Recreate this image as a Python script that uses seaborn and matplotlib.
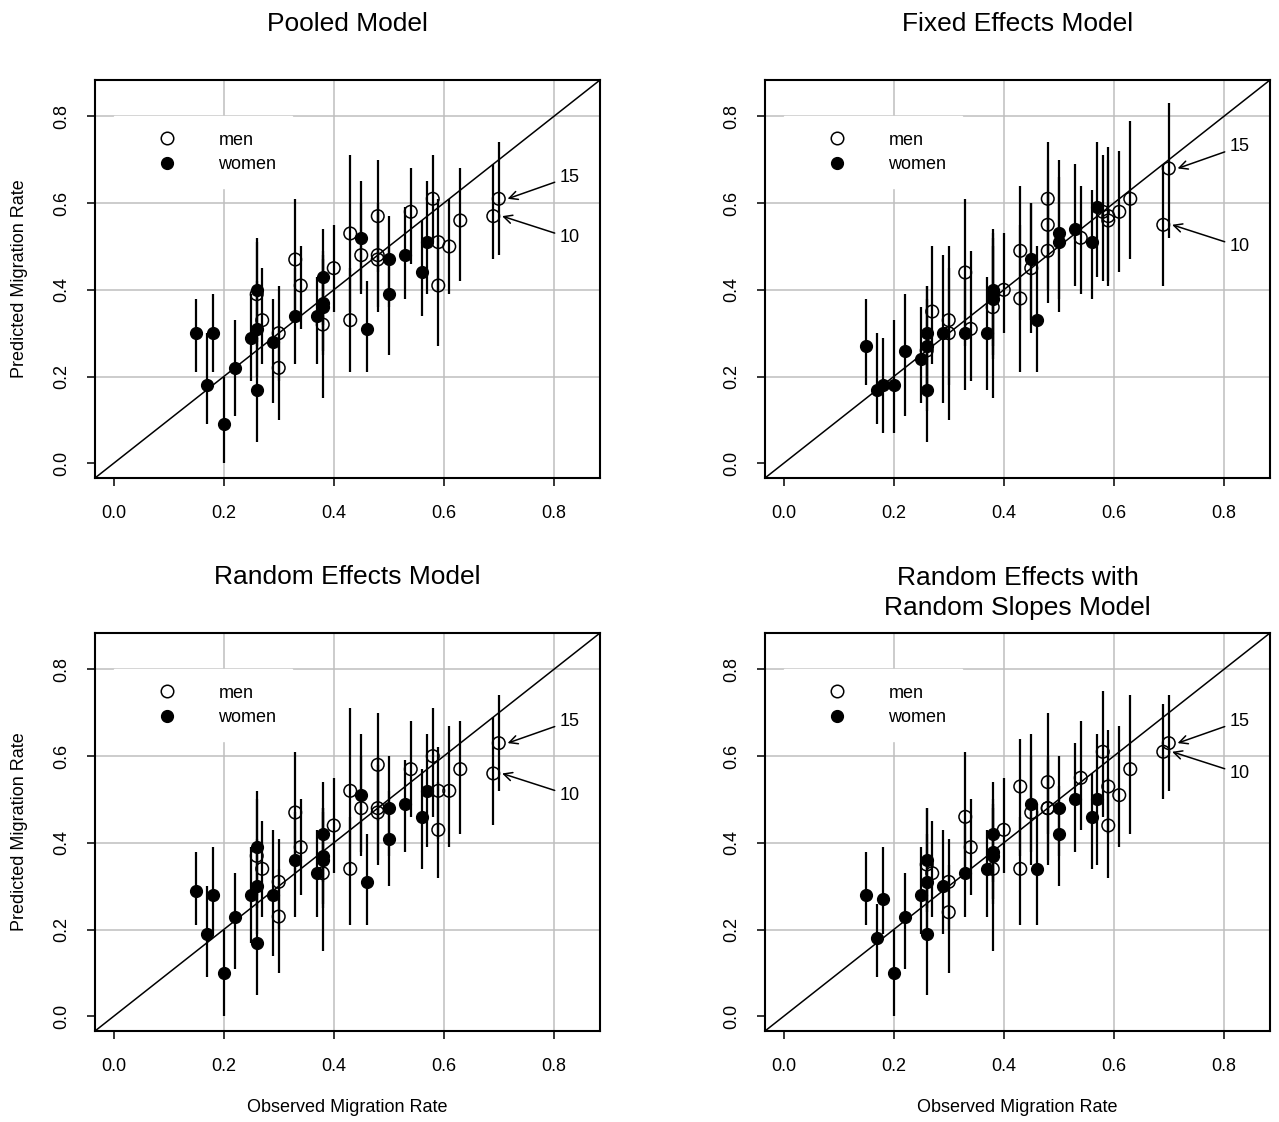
import numpy as np
import pandas as pd
import matplotlib
matplotlib.use("Agg")
import matplotlib.pyplot as plt
from matplotlib.lines import Line2D
import seaborn as sns

# observed migration rates (x axis), same for all four models
men_obs = [0.26, 0.27, 0.30, 0.30, 0.33, 0.34, 0.38, 0.40, 0.43, 0.43, 0.45,
           0.48, 0.48, 0.48, 0.54, 0.58, 0.59, 0.59, 0.61, 0.63, 0.69, 0.70]
women_obs = [0.15, 0.17, 0.18, 0.20, 0.22, 0.25, 0.26, 0.26, 0.26, 0.29, 0.33,
             0.37, 0.38, 0.38, 0.38, 0.45, 0.46, 0.50, 0.50, 0.53, 0.56, 0.57]

# Pooled model
pooled_men = [0.39, 0.33, 0.30, 0.22, 0.47, 0.41, 0.32, 0.45, 0.53, 0.33, 0.48,
              0.57, 0.48, 0.47, 0.58, 0.61, 0.51, 0.41, 0.50, 0.56, 0.57, 0.61]
pooled_men_lo = [0.27, 0.23, 0.19, 0.10, 0.33, 0.31, 0.15, 0.35, 0.35, 0.21, 0.39,
                 0.44, 0.35, 0.36, 0.46, 0.51, 0.40, 0.27, 0.39, 0.42, 0.47, 0.48]
pooled_men_hi = [0.51, 0.45, 0.41, 0.33, 0.61, 0.50, 0.49, 0.55, 0.71, 0.45, 0.60,
                 0.70, 0.60, 0.58, 0.68, 0.71, 0.61, 0.52, 0.61, 0.68, 0.69, 0.74]
pooled_women = [0.30, 0.18, 0.30, 0.09, 0.22, 0.29, 0.40, 0.31, 0.17, 0.28, 0.34,
                0.34, 0.43, 0.37, 0.36, 0.52, 0.31, 0.47, 0.39, 0.48, 0.44, 0.51]
pooled_women_lo = [0.21, 0.09, 0.21, 0.00, 0.11, 0.19, 0.28, 0.20, 0.05, 0.14, 0.23,
                   0.23, 0.32, 0.26, 0.25, 0.40, 0.21, 0.36, 0.25, 0.38, 0.34, 0.39]
pooled_women_hi = [0.38, 0.30, 0.39, 0.20, 0.33, 0.39, 0.52, 0.42, 0.29, 0.38, 0.45,
                   0.43, 0.54, 0.48, 0.47, 0.65, 0.42, 0.57, 0.50, 0.59, 0.56, 0.65]

# Fixed effects model
fixed_men = [0.26, 0.35, 0.33, 0.30, 0.44, 0.31, 0.36, 0.40, 0.49, 0.38, 0.45,
             0.61, 0.55, 0.49, 0.52, 0.58, 0.56, 0.57, 0.58, 0.61, 0.55, 0.68]
fixed_men_lo = [0.12, 0.23, 0.18, 0.10, 0.27, 0.19, 0.15, 0.30, 0.33, 0.21, 0.30,
                0.47, 0.40, 0.37, 0.39, 0.42, 0.41, 0.42, 0.44, 0.47, 0.41, 0.52]
fixed_men_hi = [0.41, 0.50, 0.50, 0.45, 0.61, 0.49, 0.54, 0.53, 0.64, 0.55, 0.60,
                0.74, 0.70, 0.62, 0.64, 0.71, 0.73, 0.70, 0.72, 0.79, 0.69, 0.83]
fixed_women = [0.27, 0.17, 0.18, 0.18, 0.26, 0.24, 0.30, 0.27, 0.17, 0.30, 0.30,
               0.30, 0.40, 0.39, 0.38, 0.47, 0.33, 0.53, 0.51, 0.54, 0.51, 0.59]
fixed_women_lo = [0.18, 0.09, 0.07, 0.07, 0.11, 0.14, 0.18, 0.15, 0.05, 0.14, 0.17,
                  0.17, 0.27, 0.25, 0.24, 0.33, 0.21, 0.38, 0.35, 0.41, 0.38, 0.43]
fixed_women_hi = [0.38, 0.30, 0.29, 0.33, 0.39, 0.36, 0.41, 0.38, 0.30, 0.48, 0.43,
                  0.43, 0.52, 0.53, 0.50, 0.60, 0.50, 0.70, 0.66, 0.69, 0.63, 0.74]

# Random effects model
random_men = [0.37, 0.34, 0.31, 0.23, 0.47, 0.39, 0.33, 0.44, 0.52, 0.34, 0.48,
              0.58, 0.48, 0.47, 0.57, 0.60, 0.52, 0.43, 0.52, 0.57, 0.56, 0.63]
random_men_lo = [0.25, 0.23, 0.20, 0.10, 0.33, 0.28, 0.15, 0.33, 0.35, 0.21, 0.37,
                 0.45, 0.35, 0.36, 0.46, 0.46, 0.41, 0.32, 0.39, 0.42, 0.44, 0.52]
random_men_hi = [0.50, 0.45, 0.41, 0.34, 0.61, 0.50, 0.48, 0.55, 0.71, 0.46, 0.60,
                 0.70, 0.60, 0.58, 0.68, 0.71, 0.62, 0.54, 0.67, 0.68, 0.69, 0.74]
random_women = [0.29, 0.19, 0.28, 0.10, 0.23, 0.28, 0.39, 0.30, 0.17, 0.28, 0.36,
                0.33, 0.42, 0.37, 0.36, 0.51, 0.31, 0.48, 0.41, 0.49, 0.46, 0.52]
random_women_lo = [0.21, 0.09, 0.19, 0.00, 0.11, 0.17, 0.28, 0.19, 0.05, 0.14, 0.23,
                   0.23, 0.31, 0.26, 0.25, 0.38, 0.21, 0.37, 0.30, 0.38, 0.34, 0.39]
random_women_hi = [0.38, 0.30, 0.39, 0.20, 0.33, 0.39, 0.52, 0.41, 0.29, 0.43, 0.47,
                   0.43, 0.54, 0.48, 0.47, 0.65, 0.42, 0.60, 0.52, 0.59, 0.57, 0.65]

# Random effects with random slopes model
slopes_men = [0.35, 0.33, 0.31, 0.24, 0.46, 0.39, 0.34, 0.43, 0.53, 0.34, 0.47,
              0.54, 0.48, 0.48, 0.55, 0.61, 0.53, 0.44, 0.51, 0.57, 0.61, 0.63]
slopes_men_lo = [0.24, 0.23, 0.20, 0.10, 0.33, 0.28, 0.15, 0.33, 0.37, 0.21, 0.35,
                 0.42, 0.35, 0.36, 0.43, 0.46, 0.42, 0.32, 0.39, 0.42, 0.50, 0.52]
slopes_men_hi = [0.48, 0.45, 0.41, 0.35, 0.61, 0.50, 0.49, 0.55, 0.64, 0.46, 0.60,
                 0.70, 0.60, 0.59, 0.68, 0.75, 0.66, 0.55, 0.67, 0.74, 0.72, 0.74]
slopes_women = [0.28, 0.18, 0.27, 0.10, 0.23, 0.28, 0.36, 0.31, 0.19, 0.30, 0.33,
                0.34, 0.42, 0.38, 0.37, 0.49, 0.34, 0.48, 0.42, 0.50, 0.46, 0.50]
slopes_women_lo = [0.21, 0.09, 0.19, 0.00, 0.11, 0.19, 0.25, 0.20, 0.05, 0.19, 0.23,
                   0.23, 0.31, 0.27, 0.26, 0.38, 0.21, 0.37, 0.30, 0.38, 0.34, 0.35]
slopes_women_hi = [0.38, 0.26, 0.39, 0.20, 0.33, 0.39, 0.48, 0.42, 0.31, 0.43, 0.45,
                   0.43, 0.54, 0.50, 0.48, 0.65, 0.49, 0.60, 0.53, 0.63, 0.56, 0.65]

titles = ["Pooled Model", "Fixed Effects Model", "Random Effects Model",
          "Random Effects with\nRandom Slopes Model"]
labelled_idx = [20, 21]          # men points marked with arrows
labelled_txt = ["10", "15"]

models = [
    (pooled_men, pooled_men_lo, pooled_men_hi, pooled_women, pooled_women_lo, pooled_women_hi),
    (fixed_men, fixed_men_lo, fixed_men_hi, fixed_women, fixed_women_lo, fixed_women_hi),
    (random_men, random_men_lo, random_men_hi, random_women, random_women_lo, random_women_hi),
    (slopes_men, slopes_men_lo, slopes_men_hi, slopes_women, slopes_women_lo, slopes_women_hi),
]

sns.set_style("white")
plt.rcParams["font.family"] = ["Liberation Sans", "DejaVu Sans"]
plt.rcParams["text.color"] = "black"
plt.rcParams["axes.labelcolor"] = "black"

W, H = 1279, 1122
fig = plt.figure(figsize=(W / 100, H / 100), dpi=100)
# axes boxes in pixels: left, top
boxes = [(95, 80), (765, 80), (95, 633), (765, 633)]
aw, ah = 505, 398
lims = (-0.034, 0.884)
ticks = [0.0, 0.2, 0.4, 0.6, 0.8]
fs = 13

for k, (m, m_lo, m_hi, w, w_lo, w_hi) in enumerate(models):
    left, top = boxes[k]
    ax = fig.add_axes([left / W, 1 - (top + ah) / H, aw / W, ah / H])
    ax.set_xlim(lims)
    ax.set_ylim(lims)

    for g in ticks[1:]:
        ax.axvline(g, color="#bebebe", lw=1.1, zorder=0)
        ax.axhline(g, color="#bebebe", lw=1.1, zorder=0)
    ax.axline((0, 0), slope=1, color="black", lw=1.1, zorder=1)

    df_m = pd.DataFrame({"obs": men_obs, "pred": m, "lo": m_lo, "hi": m_hi})
    df_w = pd.DataFrame({"obs": women_obs, "pred": w, "lo": w_lo, "hi": w_hi})

    ax.vlines(df_m["obs"], df_m["lo"], df_m["hi"], color="black", lw=1.6, zorder=2)
    ax.vlines(df_w["obs"], df_w["lo"], df_w["hi"], color="black", lw=1.6, zorder=2)

    sns.scatterplot(data=df_m, x="obs", y="pred", ax=ax, marker="o", s=82,
                    color="black", facecolor="none", edgecolor="black",
                    linewidth=1.1, zorder=3, legend=False)
    sns.scatterplot(data=df_w, x="obs", y="pred", ax=ax, marker="o", s=72,
                    color="black", edgecolor="black", linewidth=1.0,
                    zorder=3, legend=False)

    # arrows to points 10 and 15
    for idx, txt in zip(labelled_idx, labelled_txt):
        px, py = men_obs[idx], m[idx]
        dy = 0.05 if txt == "15" else -0.05
        ax.annotate(txt, xy=(px + 0.016, py), xytext=(0.81, py + dy),
                    ha="left", va="center", fontsize=fs,
                    arrowprops=dict(arrowstyle="->", color="black", lw=1.1,
                                    shrinkA=1, shrinkB=0, mutation_scale=15))

    handles = [
        Line2D([], [], marker="o", ls="none", mfc="none", mec="black", ms=9, mew=1.1),
        Line2D([], [], marker="o", ls="none", mfc="black", mec="black", ms=8.5),
    ]
    ax.legend(handles, ["men", "women"], loc="upper left",
              bbox_to_anchor=(0.0, 0.80), bbox_transform=ax.transData,
              frameon=True, facecolor="white", edgecolor="white", framealpha=1,
              fancybox=False, fontsize=fs, handlelength=4.2,
              handletextpad=0.75, borderpad=0.85, labelspacing=0.4,
              borderaxespad=0)

    ax.set_xticks(ticks)
    ax.set_yticks(ticks)
    ax.set_xticklabels([f"{t:.1f}" for t in ticks])
    ax.set_yticklabels([f"{t:.1f}" for t in ticks], rotation=90, va="center")
    ax.tick_params(axis="both", direction="out", length=5.5, width=1.1,
                   labelsize=fs, colors="black", left=True, bottom=True)
    ax.tick_params(axis="y", pad=12)
    ax.tick_params(axis="x", pad=14)
    for sp in ax.spines.values():
        sp.set_color("black")
        sp.set_linewidth(1.5)
    ax.set_xlabel("")
    ax.set_ylabel("")

    nl = titles[k].count("\n")
    ax.text(0.5, 1 + (49 - 31 * nl) / ah, titles[k], transform=ax.transAxes,
            ha="center", va="baseline", fontsize=19, linespacing=1.3)

    if k in (0, 2):
        fig.text(20 / W, 1 - (top + ah / 2) / H, "Predicted Migration Rate",
                 rotation=90, ha="center", va="center", fontsize=fs)
    if k in (2, 3):
        fig.text((left + aw / 2) / W, 1 - 1108 / H, "Observed Migration Rate",
                 ha="center", va="center", fontsize=fs)

fig.savefig("out.png", dpi=100, facecolor="white")
